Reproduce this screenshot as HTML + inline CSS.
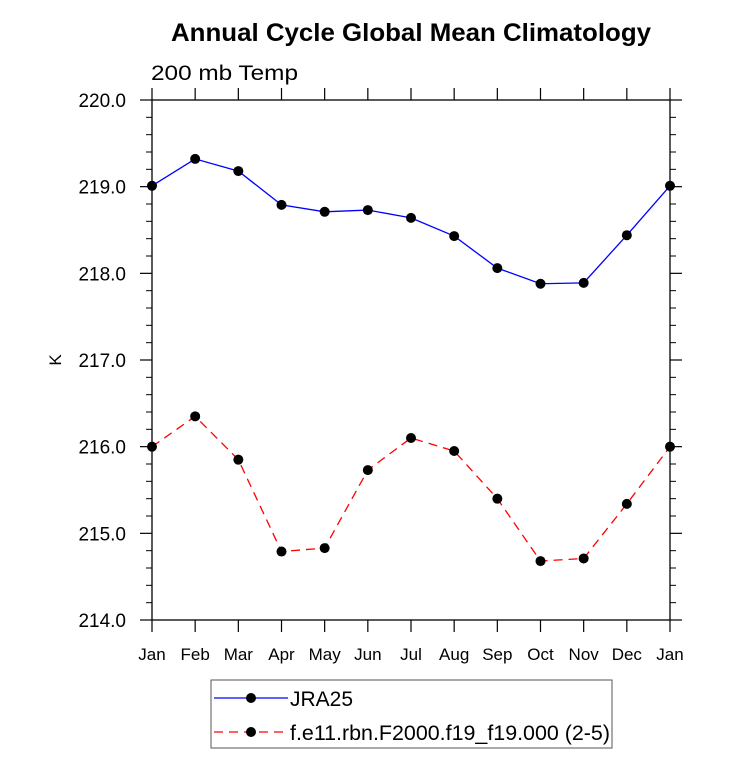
<!DOCTYPE html>
<html><head><meta charset="utf-8"><style>
body{margin:0;background:#fff;}
svg text{font-family:"Liberation Sans",sans-serif;fill:#000;}
</style></head><body>
<svg id="chart" width="733" height="770" xmlns="http://www.w3.org/2000/svg">
<text x="411" y="41" text-anchor="middle" font-size="25" font-weight="bold" textLength="480" lengthAdjust="spacingAndGlyphs">Annual Cycle Global Mean Climatology</text>
<text x="151" y="80" font-size="21" textLength="147" lengthAdjust="spacingAndGlyphs">200 mb Temp</text>
<text x="0" y="0" transform="translate(61,360) rotate(-90)" text-anchor="middle" font-size="17">K</text>
<g id="axes"></g>
<g id="series"></g>
<g>
<rect x="211" y="680" width="401" height="68" fill="#fff" stroke="#555" stroke-width="1"/>
<g>
<line x1="214" y1="698" x2="288" y2="698" stroke="#0000ff" stroke-width="1.3"/>
<circle cx="251" cy="698" r="5" fill="#000"/>
<text x="290" y="706" font-size="21">JRA25</text>
</g>
<g>
<line x1="214" y1="732" x2="288" y2="732" stroke="#ff0000" stroke-width="1.3" stroke-dasharray="9,6"/>
<circle cx="251" cy="732" r="5" fill="#000"/>
<text x="290" y="740" font-size="21" textLength="320" lengthAdjust="spacingAndGlyphs">f.e11.rbn.F2000.f19_f19.000 (2-5)</text>
</g>
</g>
</svg>
<script>
const months = ["Jan","Feb","Mar","Apr","May","Jun","Jul","Aug","Sep","Oct","Nov","Dec","Jan"];
const jra25 = [219.01,219.32,219.18,218.79,218.71,218.73,218.64,218.43,218.06,217.88,217.89,218.44,219.01];
const model = [216.00,216.35,215.85,214.79,214.83,215.73,216.10,215.95,215.40,214.68,214.71,215.34,216.00];
const yTicks = [214,215,216,217,218,219,220];
const yTickLabels = ["214.0","215.0","216.0","217.0","218.0","219.0","220.0"];

const NS="http://www.w3.org/2000/svg";
const L=152,R=670,T=100,B=620,yMin=214,yMax=220;
const xs=i=>L+(R-L)*i/(months.length-1);
const ys=v=>B-(v-yMin)/(yMax-yMin)*(B-T);
function mk(tag,attrs,parent){const e=document.createElementNS(NS,tag);for(const k in attrs)e.setAttribute(k,attrs[k]);parent.appendChild(e);return e;}
const ax=document.getElementById('axes');
const frame=mk('rect',{x:L,y:T,width:R-L,height:B-T,fill:'none',stroke:'#000','stroke-width':1.3},ax);


months.forEach((m,i)=>{
  const x=xs(i);
  mk('line',{x1:x,y1:B,x2:x,y2:B+12,stroke:'#000','stroke-width':1.2},ax);
  mk('line',{x1:x,y1:T,x2:x,y2:T-12,stroke:'#000','stroke-width':1.2},ax);
  const t=mk('text',{x:x,y:B+40,'text-anchor':'middle','font-size':17},ax);
  t.textContent=m;
  
  
});
yTicks.forEach((v,i)=>{
  const y=ys(v);
  mk('line',{x1:L-12,y1:y,x2:L,y2:y,stroke:'#000','stroke-width':1.2},ax);
  mk('line',{x1:R,y1:y,x2:R+12,y2:y,stroke:'#000','stroke-width':1.2},ax);
  const t=mk('text',{x:L-26,y:y+7,'text-anchor':'end','font-size':19},ax);
  t.textContent=yTickLabels[i];
  
  
  if(i<yTicks.length-1){for(let k=1;k<5;k++){const yy=ys(v+k*0.2);
    mk('line',{x1:L-6,y1:yy,x2:L,y2:yy,stroke:'#000','stroke-width':1},ax);
    mk('line',{x1:R,y1:yy,x2:R+6,y2:yy,stroke:'#000','stroke-width':1},ax);}}
});
const sg=document.getElementById('series');
function draw(data,color,dash,name){
  const g=mk('g',{},sg);
  
  
  const p=mk('polyline',{points:data.map((v,i)=>xs(i)+','+ys(v)).join(' '),fill:'none',stroke:color,'stroke-width':1.3},g);
  if(dash)p.setAttribute('stroke-dasharray',dash);
  data.forEach((v,i)=>{const c=mk('circle',{cx:xs(i),cy:ys(v),r:5,fill:'#000'},g);
    
    });
}
draw(jra25,'#0000ff',null,'series-jra25');
draw(model,'#ff0000','9,6','series-model');
</script>
</body></html>
